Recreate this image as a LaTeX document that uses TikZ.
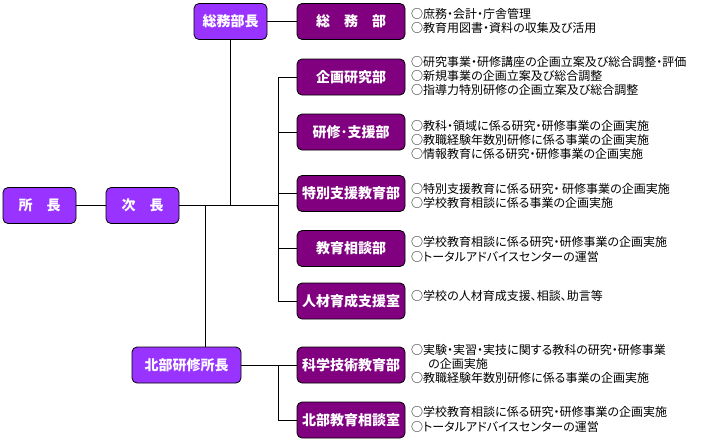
\documentclass[tikz,border=0pt]{standalone}
\usepackage{fontspec}
\usepackage{xcolor}
\usepackage{tikz}
\usetikzlibrary{positioning,calc}
\newfontfamily\jp[RawFeature=+palt]{Noto Sans CJK JP}
\definecolor{lightpurple}{HTML}{9933FF}
\definecolor{deeppurple}{HTML}{800080}

\begin{document}
\begin{tikzpicture}[
  x=1pt,y=-1pt,
  every node/.style={font=\jp},
  head/.style={draw=black,line width=0.8pt,rounded corners=5pt,fill=lightpurple,text=white,
    font=\jp\bfseries\fontsize{14}{14}\selectfont,minimum height=36pt,minimum width=73pt,inner sep=0pt},
  dept/.style={head,fill=deeppurple,minimum width=108pt},
  desc/.style={anchor=west,align=left,inner sep=0pt,font=\jp\fontsize{12}{14.3}\selectfont},
  link/.style={draw=black,line width=0.9pt}
]
\useasboundingbox (0,0) rectangle (725,445);
% heads
\node[head] (chief) at (39.5,205.5) {所　長};
\node[head] (vice) at (142.5,205.5) {次　長};
\node[head] (gm) at (230.5,21.5) {総務部長};
\node[head,minimum width=109pt] (nbhead) at (186.5,365) {北部研修所長};
% departments
\node[dept] (general) at (351,21.5) {総　務　部};
\node[dept] (plan) at (351,77) {企画研究部};
\node[dept] (train) at (351,132) {研修･支援部};
\node[dept] (special) at (351,193.5) {特別支援教育部};
\node[dept] (consult) at (351,248.5) {教育相談部};
\node[dept] (staff) at (351,301) {人材育成支援室};
\node[dept] (science) at (351,365) {科学技術教育部};
\node[dept] (nconsult) at (351,420) {北部教育相談室};
% duties
\node[desc] (d-general) at (411,21) {○庶務・会計・庁舎管理\\○教育用図書・資料の収集及び活用};
\node[desc] (d-plan) at (411,76) {○研究事業・研修講座の企画立案及び総合調整・評価\\○新規事業の企画立案及び総合調整\\○指導力特別研修の企画立案及び総合調整};
\node[desc] (d-train) at (411,140) {○教科・領域に係る研究・研修事業の企画実施\\○教職経験年数別研修に係る事業の企画実施\\○情報教育に係る研究・研修事業の企画実施};
\node[desc] (d-special) at (411,196) {○特別支援教育に係る研究・ 研修事業の企画実施\\○学校教育相談に係る事業の企画実施};
\node[desc] (d-consult) at (411,249.5) {○学校教育相談に係る研究・研修事業の企画実施\\○トータルアドバイスセンターの運営};
\node[desc] (d-staff) at (411,296) {○学校の人材育成支援、相談、助言等};
\node[desc] (d-science) at (411,364) {○実験・実習・実技に関する教科の研究・研修事業\\\hspace*{17pt}の企画実施\\○教職経験年数別研修に係る事業の企画実施};
\node[desc] (d-nconsult) at (411,419.5) {○学校教育相談に係る研究・研修事業の企画実施\\○トータルアドバイスセンターの運営};
% connectors
\coordinate (trunk) at (278.3,205.5);
\coordinate (north) at (205.3,205.5);
\draw[link] (chief) -- (vice);
\draw[link] (vice) -- (trunk);
\draw[link] (gm) -- (gm |- trunk);
\draw[link] (gm) -- (general);
\draw[link] (north) -- (north |- nbhead.north);
\draw[link] (trunk |- plan) -- (trunk |- staff);
\foreach \n in {plan,train,special,consult,staff}
  \draw[link] (trunk |- \n) -- (\n);
\draw[link] (nbhead) -- (science);
\draw[link] (trunk |- science) -- (trunk |- nconsult) -- (nconsult);
\end{tikzpicture}
\end{document}
